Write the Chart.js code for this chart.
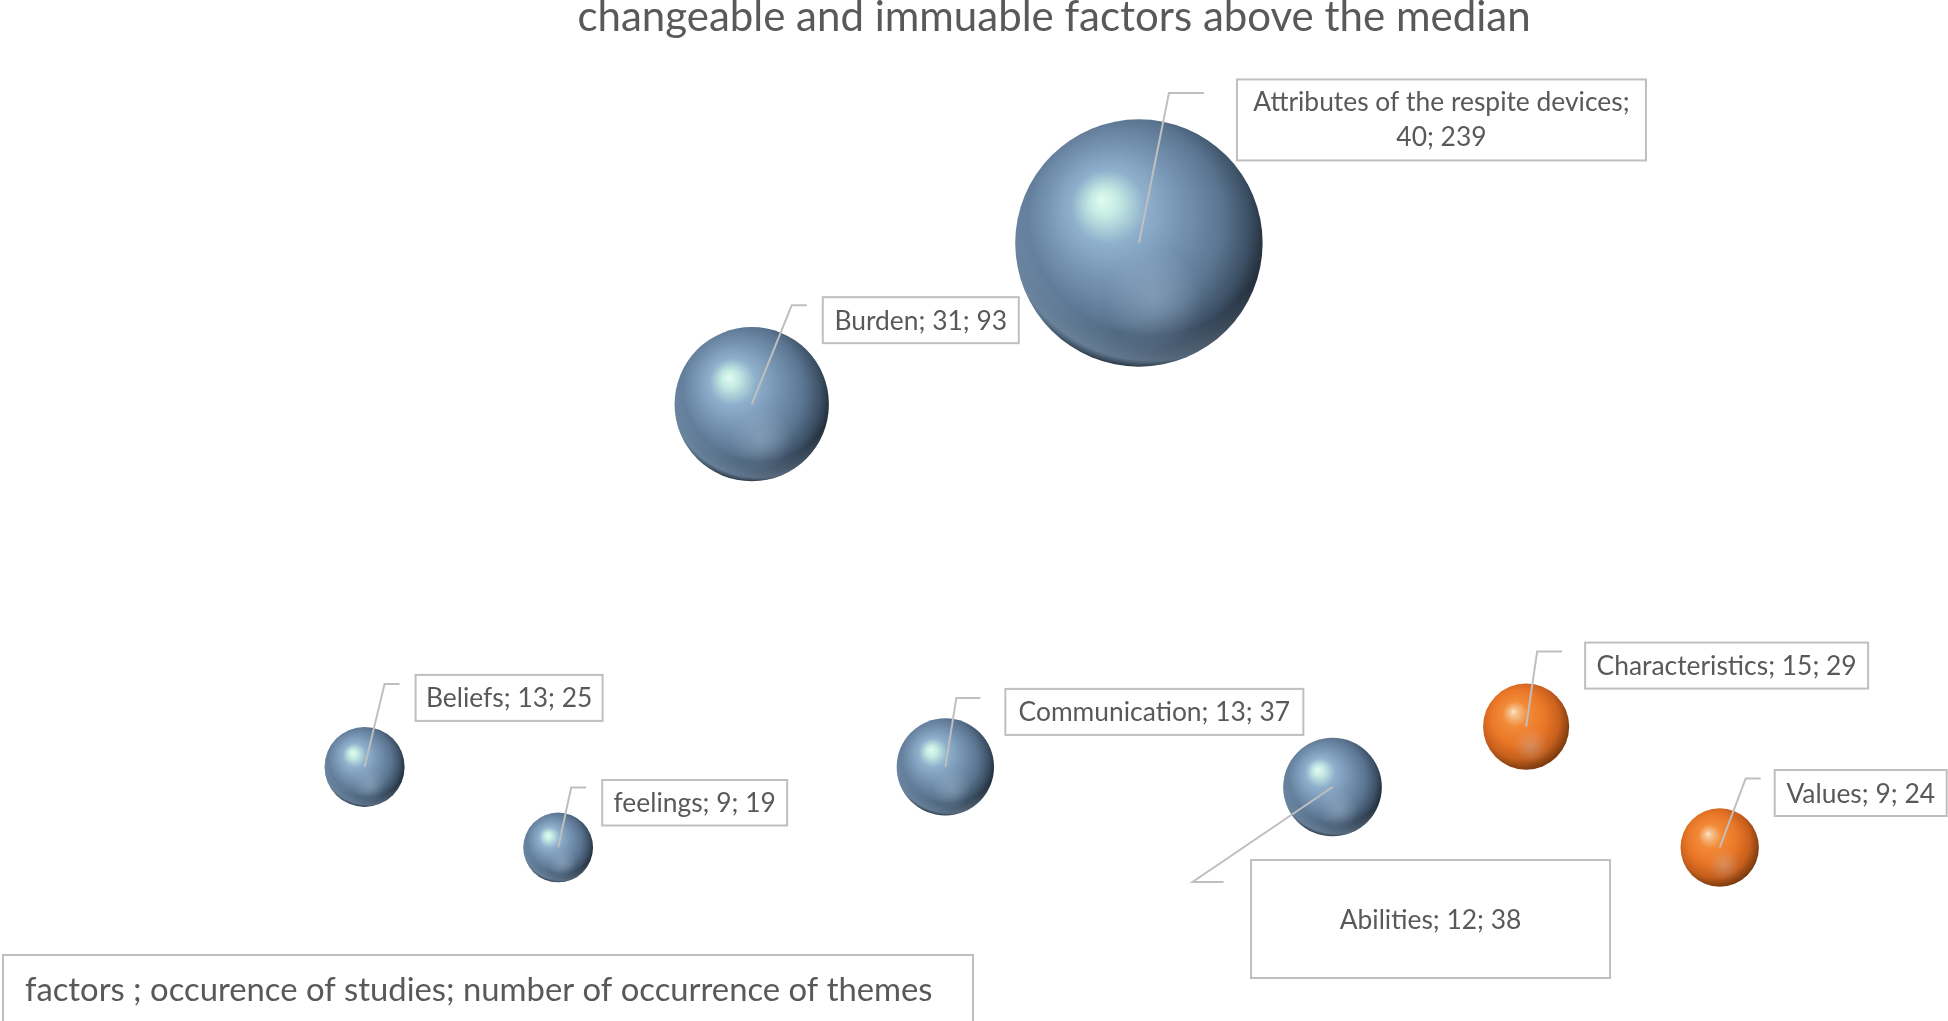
<!DOCTYPE html>
<html>
<head>
<meta charset="utf-8">
<title>changeable and immuable factors above the median</title>
<script src="https://cdn.jsdelivr.net/npm/chart.js@4.4.1/dist/chart.umd.min.js"></script>
<style>
  html, body { margin: 0; padding: 0; background: #fff; overflow: hidden; }
  canvas { display: block; }
</style>
</head>
<body>
<canvas id="chart" width="1948" height="1021"></canvas>
<script>
// Values
const factors = ['Beliefs', 'feelings', 'Burden', 'Communication', 'Attributes of the respite devices', 'Abilities', 'Characteristics', 'Values'];
const xValues = [1, 2, 3, 4, 5, 6, 7, 8];
const yValues = [13, 9, 31, 13, 39, 12, 15, 9];   // vertical position as plotted
const studies = [13, 9, 31, 13, 40, 12, 15, 9];   // occurrence of studies (as labelled)
const themes = [25, 19, 93, 37, 239, 38, 29, 24]; // number of occurrence of themes (bubble area)
const groups = ['changeable', 'changeable', 'changeable', 'changeable', 'changeable', 'changeable', 'immuable', 'immuable'];

const chartTitle = 'changeable and immuable factors above the median';
const legendText = 'factors ; occurence of studies; number of occurrence of themes';

// label callouts: offsets from bubble centre (px) for the leader elbow, leader end and box [left, top, w, h]
const labelPlacement = [
  { elbow: [20, -83], end: [35, -83], box: [51, -92, 187, 46] },
  { elbow: [13, -60], end: [28, -60], box: [44, -67.5, 185, 45.5] },
  { elbow: [40, -99], end: [55, -99], box: [71, -107, 196, 46] },
  { elbow: [11, -69], end: [35, -69], box: [60, -78, 298, 46] },
  { elbow: [30, -150], end: [65, -150], box: [98, -163.5, 409, 81] },
  { elbow: [-140, 95], end: [-109, 95], box: [-81.5, 73, 359, 118] },
  { elbow: [11, -75], end: [36, -75], box: [59, -84, 283, 46] },
  { elbow: [26, -69], end: [41, -69], box: [55, -77.5, 172, 46] }
];

const sizeScale = 8.0; // radius px per sqrt(themes), so area follows theme count
const textColor = '#595959';
const lineColor = '#BFBFBF';
const fontFamily = 'Lato, "Open Sans", sans-serif';

const blueStops = [[0, '#E3FCF1'], [0.1, '#C4EAE3'], [0.26, '#8FB0CC'], [0.5, '#7391AF'], [0.72, '#5B7591'], [0.88, '#3D5166'], [1, '#1E2833']];
const orangeStops = [[0, '#FBE6CC'], [0.08, '#F7C08A'], [0.26, '#F28A38'], [0.55, '#EA7728'], [0.8, '#C75F1C'], [1, '#76380F']];
const rimColor = '165,195,225';

function pointsFor(group) {
  return factors
    .map((f, i) => ({ x: xValues[i], y: yValues[i], r: sizeScale * Math.sqrt(themes[i]), i: i }))
    .filter(p => groups[p.i] === group);
}

// 3D-looking sphere fill
function sphereFill(stops) {
  return (ctx) => {
    const chart = ctx.chart;
    const raw = ctx.raw;
    if (!raw || !chart.chartArea || !chart.scales.x) return stops[3][1];
    const cx = chart.scales.x.getPixelForValue(raw.x);
    const cy = chart.scales.y.getPixelForValue(raw.y);
    const r = raw.r;
    const g = chart.ctx.createRadialGradient(cx - 0.3 * r, cy - 0.35 * r, 0, cx - 0.1 * r, cy - 0.12 * r, 1.15 * r);
    stops.forEach(s => g.addColorStop(s[0], s[1]));
    return g;
  };
}

// soft reflection and light rim at the bottom of each sphere
const sheenPlugin = {
  id: 'sheen',
  afterDatasetsDraw(chart) {
    const c = chart.ctx;
    chart.data.datasets.forEach((ds, d) => {
      chart.getDatasetMeta(d).data.forEach((el, j) => {
        const r = ds.data[j].r;
        c.save();
        c.beginPath();
        c.arc(el.x, el.y, r, 0, Math.PI * 2);
        c.clip();
        const g = c.createRadialGradient(el.x + 0.12 * r, el.y + 0.45 * r, 0, el.x + 0.12 * r, el.y + 0.45 * r, 0.4 * r);
        g.addColorStop(0, 'rgba(190,205,225,0.3)');
        g.addColorStop(1, 'rgba(190,205,225,0)');
        c.fillStyle = g;
        c.fillRect(el.x - r, el.y - r, 2 * r, 2 * r);
        if (d === 0) {
          // thin light rim along the bottom edge
          const ox = el.x + 0.1 * r, oy = el.y - 0.25 * r;
          const rim = c.createRadialGradient(ox, oy, 1.0 * r, ox, oy, 1.27 * r);
          rim.addColorStop(0, 'rgba(' + rimColor + ',0)');
          rim.addColorStop(0.75, 'rgba(' + rimColor + ',0.4)');
          rim.addColorStop(1, 'rgba(' + rimColor + ',0)');
          c.fillStyle = rim;
          c.fillRect(el.x - r, el.y - r, 2 * r, 2 * r);
        }
        c.restore();
      });
    });
  }
};

// callout boxes, title and the explanation box
const calloutPlugin = {
  id: 'callouts',
  afterDraw(chart) {
    const c = chart.ctx;
    c.save();
    chart.data.datasets.forEach((ds, d) => {
      chart.getDatasetMeta(d).data.forEach((el, j) => {
        const i = ds.data[j].i;
        const p = labelPlacement[i];
        const x = el.x, y = el.y;
        // leader line
        c.strokeStyle = lineColor;
        c.lineWidth = 2;
        c.beginPath();
        c.moveTo(x, y);
        c.lineTo(x + p.elbow[0], y + p.elbow[1]);
        c.lineTo(x + p.end[0], y + p.end[1]);
        c.stroke();
        // box
        const bx = x + p.box[0], by = y + p.box[1], bw = p.box[2], bh = p.box[3];
        c.fillStyle = '#fff';
        c.fillRect(bx, by, bw, bh);
        c.strokeRect(bx, by, bw, bh);
        // text
        c.fillStyle = textColor;
        c.font = '26.4px ' + fontFamily;
        c.textAlign = 'center';
        c.textBaseline = 'middle';
        if (i === 4) {
          c.fillText(factors[i] + ';', bx + bw / 2, by + bh / 2 - 17);
          c.fillText(studies[i] + '; ' + themes[i], bx + bw / 2, by + bh / 2 + 18);
        } else {
          c.fillText(factors[i] + '; ' + studies[i] + '; ' + themes[i], bx + bw / 2, by + bh / 2 + 1);
        }
      });
    });

    // title
    c.fillStyle = textColor;
    c.font = '42px ' + fontFamily;
    c.textAlign = 'center';
    c.textBaseline = 'middle';
    c.fillText(chartTitle, 1054, 17);

    // explanation box bottom left
    c.strokeStyle = lineColor;
    c.lineWidth = 2;
    c.strokeRect(3, 955, 970, 80);
    c.font = '32.8px ' + fontFamily;
    c.textAlign = 'left';
    c.fillText(legendText, 25, 990);
    c.restore();
  }
};

new Chart(document.getElementById('chart'), {
  type: 'bubble',
  data: {
    datasets: [
      {
        label: 'changeable',
        data: pointsFor('changeable'),
        backgroundColor: sphereFill(blueStops),
        borderWidth: 0
      },
      {
        label: 'immuable',
        data: pointsFor('immuable'),
        backgroundColor: sphereFill(orangeStops),
        borderWidth: 0
      }
    ]
  },
  options: {
    responsive: false,
    animation: false,
    events: [],
    layout: { autoPadding: false, padding: { left: 171, right: 34.7, top: 61.6, bottom: 92.9 } },
    scales: {
      x: { type: 'linear', min: 0, max: 9, display: false },
      y: { type: 'linear', min: 5, max: 48, display: false }
    },
    plugins: {
      legend: { display: false },
      tooltip: { enabled: false },
      title: { display: false }
    }
  },
  plugins: [sheenPlugin, calloutPlugin]
});
</script>
</body>
</html>
